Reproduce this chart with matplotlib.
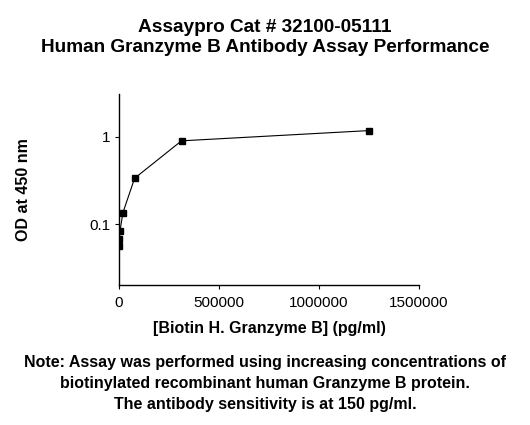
import matplotlib
matplotlib.use("Agg")
import matplotlib.pyplot as plt
from matplotlib.ticker import FixedLocator, FixedFormatter

plt.rcParams["font.family"] = ["Liberation Sans", "DejaVu Sans"]

# 4-fold dilution series of biotinylated Granzyme B (pg/ml) and OD450 readings
conc_pg_ml = [1250000, 312500, 78125, 19531, 4883, 1221, 305]
od_450 = [1.18, 0.90, 0.335, 0.135, 0.083, 0.068, 0.056]

x_ticks = [0, 500000, 1000000, 1500000]
x_tick_labels = ["0", "500000", "1000000", "1500000"]
y_ticks = [0.1, 1]
y_tick_labels = ["0.1", "1"]

title_lines = ["Assaypro Cat # 32100-05111",
               "Human Granzyme B Antibody Assay Performance"]
note_lines = ["Note: Assay was performed using increasing concentrations of",
              "biotinylated recombinant human Granzyme B protein.",
              "The antibody sensitivity is at 150 pg/ml."]

W, H = 530, 425
fig = plt.figure(figsize=(W / 100, H / 100), dpi=100)
ax = fig.add_axes([119 / W, 1 - 285 / H, 300 / W, 191 / H])

ax.plot(conc_pg_ml, od_450, color="black", lw=0.8, marker="s",
        markersize=4.0, markerfacecolor="black", markeredgecolor="black")

ax.set_yscale("log")
ax.set_xlim(0, 1500000)
ax.set_ylim(0.02, 3.1)
ax.xaxis.set_major_locator(FixedLocator(x_ticks))
ax.xaxis.set_major_formatter(FixedFormatter(x_tick_labels))
ax.yaxis.set_major_locator(FixedLocator(y_ticks))
ax.yaxis.set_major_formatter(FixedFormatter(y_tick_labels))
ax.yaxis.set_minor_locator(FixedLocator([]))
ax.tick_params(axis="both", which="both", length=3, width=0.8,
               direction="out", labelsize=11)
ax.tick_params(axis="x", pad=5)
ax.tick_params(axis="y", pad=3)

for side in ("top", "right"):
    ax.spines[side].set_visible(False)
for side in ("left", "bottom"):
    ax.spines[side].set_linewidth(1.0)

ax.set_xlabel("[Biotin H. Granzyme B] (pg/ml)", fontsize=11.5,
              fontweight="bold", labelpad=8)
ax.set_ylabel("OD at 450 nm", fontsize=11.5, fontweight="bold")
ax.yaxis.set_label_coords(-0.293, 0.5)

# text placed by baseline, in pixels from the top
for y_px, line in zip([31.5, 52.5], title_lines):
    fig.text(0.5, 1 - y_px / H, line, ha="center", va="baseline",
             fontsize=13.7, fontweight="bold")
for y_px, line in zip([367, 388, 409], note_lines):
    fig.text(0.5, 1 - y_px / H, line, ha="center", va="baseline",
             fontsize=11.5, fontweight="bold")

fig.savefig("out.png", dpi=100)
